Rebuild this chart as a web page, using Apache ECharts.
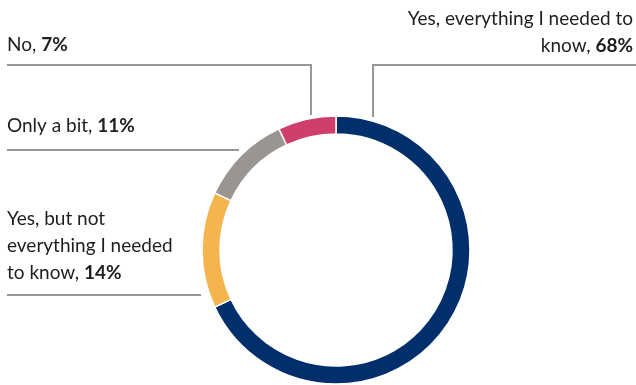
<!DOCTYPE html>
<html>
<head>
<meta charset="utf-8">
<script src="https://cdn.jsdelivr.net/npm/echarts@6/dist/echarts.min.js"></script>
<style>
html,body{margin:0;padding:0;background:#fff;}
#chart{width:636px;height:385px;}
</style>
</head>
<body>
<div id="chart"></div>
<script>
// Data
const categories = [
  "Yes, everything I needed to\nknow",
  "Yes, but not\neverything I needed\nto know",
  "Only a bit",
  "No"
];
const values = [68, 14, 11, 7];
const colors = ["#002f6c", "#f6b44f", "#9b9591", "#cf3f6b"];

// Label placement (layout only)
const labelPlacement = [
  { x: 633, y: 5,   align: "right", line: [[373, 117], [373, 65], [636, 65]] },
  { x: 7,   y: 205, align: "left",  line: [[201, 295], [201, 295], [7, 295]] },
  { x: 7,   y: 112, align: "left",  line: [[239, 150], [239, 150], [7, 150]] },
  { x: 7,   y: 31,  align: "left",  line: [[311, 115], [311, 65], [7, 65]] }
];

const chart = echarts.init(document.getElementById("chart"), null, { renderer: "canvas" });
const FONT = "Lato";
chart.setOption({
  animation: false,
  series: [{
    type: "pie",
    center: [336, 250],
    radius: [116, 134],
    startAngle: 90,
    clockwise: true,
    avoidLabelOverlap: false,
    emphasis: { disabled: true },
    itemStyle: { borderColor: "#fff", borderWidth: 1.5 },
    data: categories.map((c, i) => ({
      name: c, value: values[i], itemStyle: { color: colors[i] }
    })),
    label: {
      show: true,
      position: "outside",
      formatter: p => "{n|" + p.name + ", }{b|" + p.value + "%}",
      rich: {
        n: { fontFamily: FONT, fontSize: 19, color: "#1e1e1e", lineHeight: 27 },
        b: { fontFamily: FONT, fontSize: 19, fontWeight: "bold", color: "#1e1e1e", lineHeight: 27 }
      }
    },
    labelLine: {
      show: true,
      length: 10,
      length2: 10,
      lineStyle: { color: "#9a9693", width: 2 }
    },
    labelLayout: function (params) {
      const p = labelPlacement[params.dataIndex];
      return {
        x: p.x,
        y: p.y,
        align: p.align,
        verticalAlign: "top",
        labelLinePoints: p.line
      };
    }
  }]
});
</script>
</body>
</html>
